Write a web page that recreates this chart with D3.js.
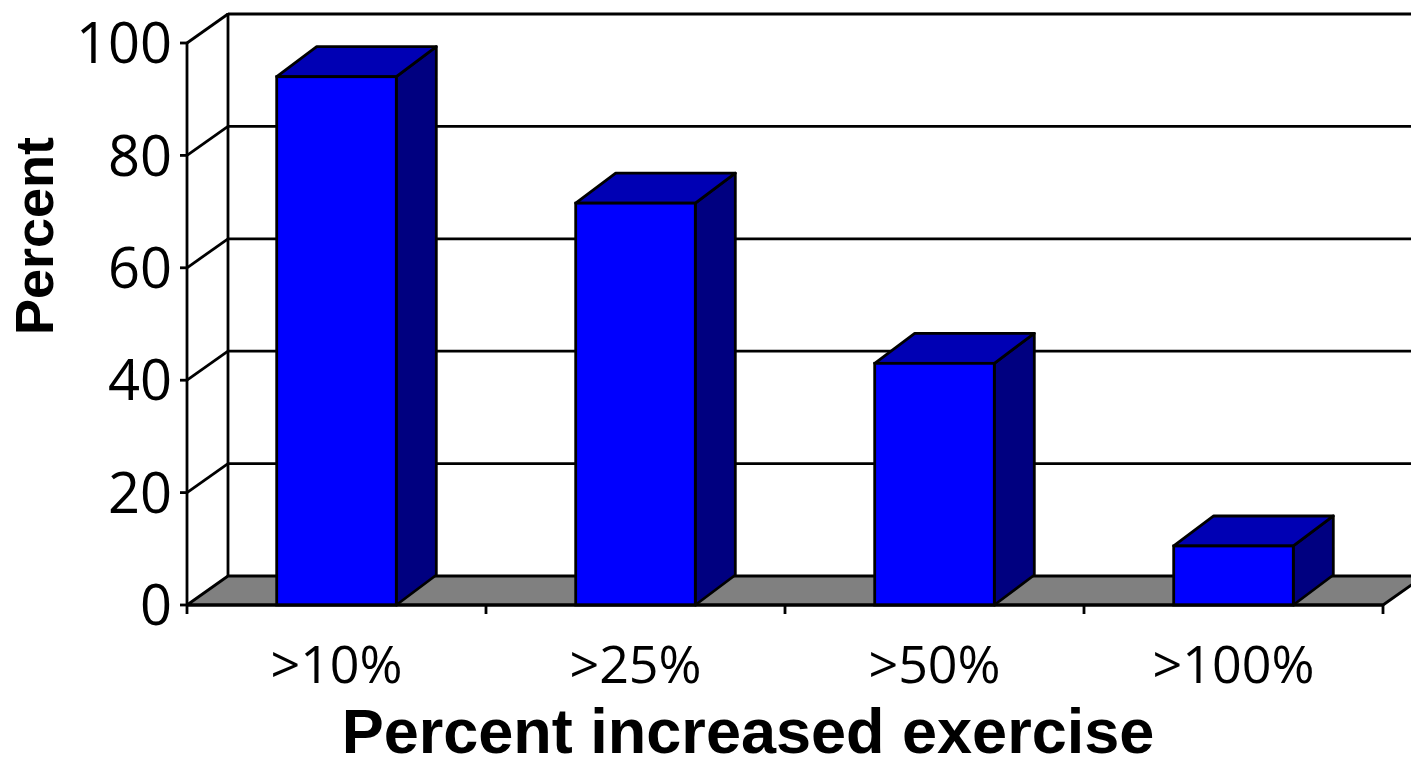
<!DOCTYPE html>
<html>
<head>
<meta charset="utf-8">
<script src="https://cdn.jsdelivr.net/npm/d3@7"></script>
<style>
  html, body { margin: 0; padding: 0; background: #fff; }
  svg { display: block; }
</style>
</head>
<body>
<svg id="chart" width="1411" height="767"></svg>
<script>
// Share of participants exceeding each exercise increase threshold
const categories = [">10%", ">25%", ">50%", ">100%"];
const values = [94, 71.5, 43, 10.5];
const yTicks = [0, 20, 40, 60, 80, 100];
const yTitle = "Percent";
const xTitle = "Percent increased exercise";

const svg = d3.select("#chart");

// Front plane of the plot box and the oblique depth offset
const x0 = 187, x1 = 1383, yBase = 605, yTop = 43;
const dx = 41, dy = -29;

const x = d3.scaleBand()
  .domain(categories)
  .range([x0, x1])
  .paddingInner(0.6)
  .paddingOuter(0.3);

const y = d3.scaleLinear().domain([0, 100]).range([yBase, yTop]);

const ink = "#000";
const lw = 2.8;

// Back wall gridlines (the top one closes the wall)
svg.append("g").selectAll("line")
  .data(yTicks.filter(d => d > 0))
  .join("line")
  .attr("x1", x0 + dx).attr("x2", x1 + dx + 40)
  .attr("y1", d => y(d) + dy).attr("y2", d => y(d) + dy)
  .attr("stroke", ink).attr("stroke-width", lw);

// Back wall left edge
svg.append("line")
  .attr("x1", x0 + dx).attr("x2", x0 + dx)
  .attr("y1", y(100) + dy - 1).attr("y2", y(0) + dy)
  .attr("stroke", ink).attr("stroke-width", lw);

// Side wall gridlines
svg.append("g").selectAll("line")
  .data(yTicks.filter(d => d > 0))
  .join("line")
  .attr("x1", x0).attr("x2", x0 + dx)
  .attr("y1", d => y(d)).attr("y2", d => y(d) + dy)
  .attr("stroke", ink).attr("stroke-width", lw);

// Floor
svg.append("path")
  .attr("d", d3.line()([
    [x0, y(0)], [x0 + dx, y(0) + dy], [x1 + dx, y(0) + dy], [x1, y(0)]
  ]) + "Z")
  .attr("fill", "#808080")
  .attr("stroke", ink).attr("stroke-width", lw)
  .attr("stroke-linejoin", "round");

// 3D columns: right, top and front faces
const bars = svg.append("g").selectAll("g")
  .data(categories.map((c, i) => ({ c, v: values[i] })))
  .join("g");

const bw = x.bandwidth();
const bdx = 40, bdy = -30;

bars.append("path")
  .attr("d", d => {
    const l = x(d.c), r = l + bw, t = y(d.v), b = y(0);
    return d3.line()([[r, b], [r + bdx, b + bdy], [r + bdx, t + bdy], [r, t]]) + "Z";
  })
  .attr("fill", "#000080").attr("stroke", ink).attr("stroke-width", lw)
  .attr("stroke-linejoin", "round");

bars.append("path")
  .attr("d", d => {
    const l = x(d.c), r = l + bw, t = y(d.v);
    return d3.line()([[l, t], [l + bdx, t + bdy], [r + bdx, t + bdy], [r, t]]) + "Z";
  })
  .attr("fill", "#0000b4").attr("stroke", ink).attr("stroke-width", lw)
  .attr("stroke-linejoin", "round");

bars.append("rect")
  .attr("x", d => x(d.c)).attr("y", d => y(d.v))
  .attr("width", bw).attr("height", d => y(0) - y(d.v))
  .attr("fill", "#0000ff").attr("stroke", ink).attr("stroke-width", lw);

// Value axis
const yAxis = svg.append("g");
yAxis.append("line")
  .attr("x1", x0).attr("x2", x0).attr("y1", y(100)).attr("y2", y(0) + 1)
  .attr("stroke", ink).attr("stroke-width", lw);
yAxis.selectAll("line.tick")
  .data(yTicks).join("line").attr("class", "tick")
  .attr("x1", x0 - 7).attr("x2", x0)
  .attr("y1", d => y(d)).attr("y2", d => y(d))
  .attr("stroke", ink).attr("stroke-width", lw);
yAxis.selectAll("text")
  .data(yTicks).join("text")
  .attr("x", x0 - 15).attr("y", d => y(d))
  .attr("dy", "0.36em")
  .attr("text-anchor", "end")
  .attr("font-family", "'Open Sans', sans-serif")
  .attr("font-weight", 500)
  .attr("font-size", 56)
  .attr("fill", ink)
  .text(d => d);

// Category axis
const xAxis = svg.append("g");
xAxis.append("line")
  .attr("x1", x0).attr("x2", x1).attr("y1", y(0)).attr("y2", y(0))
  .attr("stroke", ink).attr("stroke-width", lw);
const bounds = [x0].concat(categories.map(c => x(c) - x.step() * 0.3 + x.step()));
xAxis.selectAll("line.tick")
  .data(bounds).join("line").attr("class", "tick")
  .attr("x1", d => d).attr("x2", d => d)
  .attr("y1", y(0)).attr("y2", y(0) + 9)
  .attr("stroke", ink).attr("stroke-width", lw);
xAxis.selectAll("text")
  .data(categories).join("text")
  .attr("x", d => x(d) + bw / 2).attr("y", 683)
  .attr("text-anchor", "middle")
  .attr("font-family", "'Open Sans', sans-serif")
  .attr("font-weight", 500)
  .attr("font-size", 52)
  .attr("fill", ink)
  .text(d => d);

// Axis titles
svg.append("text")
  .attr("x", 748).attr("y", 753)
  .attr("text-anchor", "middle")
  .attr("font-family", "'Liberation Sans', Arial, sans-serif")
  .attr("font-weight", "bold")
  .attr("font-size", 63)
  .attr("fill", ink)
  .text(xTitle);

svg.append("text")
  .attr("transform", `translate(53, ${(y(0) + y(100)) / 2 - 88}) rotate(-90)`)
  .attr("text-anchor", "middle")
  .attr("font-family", "'Liberation Sans', Arial, sans-serif")
  .attr("font-weight", "bold")
  .attr("font-size", 54)
  .attr("fill", ink)
  .text(yTitle);
</script>
</body>
</html>
